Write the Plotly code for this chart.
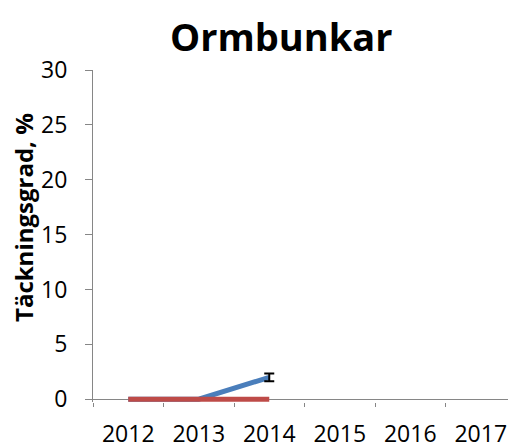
import plotly.graph_objects as go

years = ["2012", "2013", "2014", "2015", "2016", "2017"]
blue_years = ["2012", "2013", "2014"]
blue_values = [0, 0, 2.0]
blue_err = [None, None, 0.35]
red_years = ["2012", "2013", "2014"]
red_values = [0, 0, 0]
y_ticks = [0, 5, 10, 15, 20, 25, 30]

# the page body adds an 8px margin, so the figure is 8px smaller than the window
W, H = 508, 440
L, R, T, B = 85, 0, 62, 46

fig = go.Figure()
fig.add_trace(go.Scatter(
    x=blue_years, y=blue_values, mode="lines",
    line=dict(color="#4A7EBB", width=5), showlegend=False))
# error bars only where an error value exists
err_idx = [i for i, e in enumerate(blue_err) if e is not None]
fig.add_trace(go.Scatter(
    x=[blue_years[i] for i in err_idx], y=[blue_values[i] for i in err_idx], mode="lines",
    line=dict(color="#4A7EBB", width=5),
    error_y=dict(type="data", array=[blue_err[i] for i in err_idx], visible=True,
                 color="black", thickness=2, width=5),
    showlegend=False))
fig.add_trace(go.Scatter(
    x=red_years, y=red_values, mode="lines", yaxis="y2",
    line=dict(color="#BE4B48", width=5), showlegend=False))

pw, ph = W - L - R, H - T - B

def px_x(x):
    return (x - L) / pw

def px_y(y):
    return (H - B - y) / ph

yrange = [-0.25, 30]
font_family = "Open Sans, Liberation Sans, sans-serif"
fig.update_layout(
    width=W, height=H,
    margin=dict(l=L, r=R, t=T, b=B, autoexpand=False),
    paper_bgcolor="white", plot_bgcolor="white",
    font=dict(family=font_family, color="black"),
    annotations=[
        dict(text="<b>Ormbunkar</b>", x=px_x(273), y=px_y(0), xref="paper", yref="paper",
             xanchor="center", yanchor="top", showarrow=False, font=dict(size=38)),
        dict(text="<b>Täckningsgrad, %</b>", x=px_x(15), y=px_y(210), xref="paper", yref="paper",
             xanchor="center", yanchor="middle", textangle=-90, showarrow=False,
             font=dict(size=24)),
    ],
    xaxis=dict(type="category", categoryorder="array", categoryarray=years,
               range=[-0.5, 5.5], tickson="boundaries", ticks="outside", ticklen=4,
               tickcolor="#868686", showline=False,
               showgrid=False, zeroline=False, tickfont=dict(size=23),
               ticklabelstandoff=16),
    yaxis=dict(range=yrange, tickvals=y_ticks, ticks="outside", ticklen=7,
               tickcolor="#868686", showline=True, linecolor="#868686", linewidth=1,
               showgrid=False, zeroline=True, zerolinecolor="#868686", zerolinewidth=1,
               showticklabels=False),
    yaxis2=dict(range=yrange, tickvals=y_ticks, overlaying="y", side="left",
                ticks="outside", ticklen=20, tickcolor="rgba(0,0,0,0)",
                showline=False, showgrid=False, zeroline=False,
                tickfont=dict(size=23)),
)
fig.write_html("out.html")
